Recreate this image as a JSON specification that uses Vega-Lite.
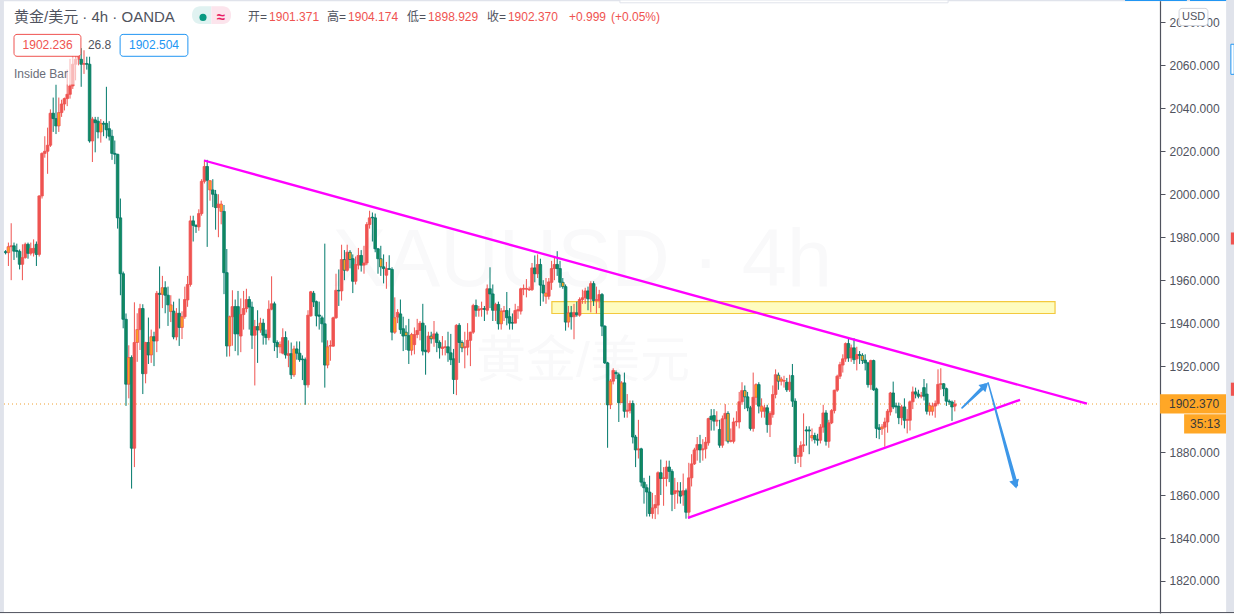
{"$schema":"https://vega.github.io/schema/vega-lite/v6.json","width":1160,"height":613,"autosize":"none","padding":{"left":0,"top":0,"right":74,"bottom":2},"background":"white","view":{"stroke":null},"config":{"font":"Liberation Sans, Noto Sans CJK SC"},
"datasets":{"bars":[
{"t":2,"o":1973.3,"h":1974,"l":1972,"c":1972.8,"s":"d"},
{"t":3,"o":1972.8,"h":1977.5,"l":1966.6,"c":1975.6,"s":"u","i":1},
{"t":4,"o":1975.6,"h":1986.5,"l":1960,"c":1976,"s":"u"},
{"t":5,"o":1976,"h":1977.5,"l":1969.4,"c":1973.5,"s":"d"},
{"t":6,"o":1973.8,"h":1977,"l":1970.5,"c":1973.4,"s":"d"},
{"t":7,"o":1973.4,"h":1974.3,"l":1965,"c":1967.4,"s":"d"},
{"t":8,"o":1967.4,"h":1976.7,"l":1960,"c":1970.5,"s":"u"},
{"t":9,"o":1970.5,"h":1977.5,"l":1970,"c":1976.7,"s":"u"},
{"t":10,"o":1976.7,"h":1977.5,"l":1970,"c":1972.5,"s":"d"},
{"t":11,"o":1972.5,"h":1977.5,"l":1971.5,"c":1974.7,"s":"u"},
{"t":12,"o":1972.8,"h":1979,"l":1971,"c":1974.8,"s":"u"},
{"t":13,"o":1976.7,"h":1978,"l":1966.6,"c":1972,"s":"d"},
{"t":14,"o":1972,"h":1999.5,"l":1971,"c":1999.2,"s":"u"},
{"t":15,"o":1999.2,"h":2019.5,"l":1998,"c":2019,"s":"u"},
{"t":16,"o":2019,"h":2027,"l":2017,"c":2020,"s":"u"},
{"t":17,"o":2020,"h":2031,"l":2009.5,"c":2022.8,"s":"u"},
{"t":18,"o":2022.8,"h":2039.5,"l":2022,"c":2037.7,"s":"u"},
{"t":19,"o":2037.7,"h":2045,"l":2029,"c":2035.2,"s":"d"},
{"t":20,"o":2035.2,"h":2051,"l":2028,"c":2031.8,"s":"d"},
{"t":21,"o":2031.8,"h":2045,"l":2029,"c":2038,"s":"u","i":1},
{"t":22,"o":2038,"h":2044,"l":2036,"c":2042,"s":"u"},
{"t":23,"o":2042,"h":2045,"l":2039,"c":2044.5,"s":"u"},
{"t":24,"o":2044.5,"h":2058,"l":2041,"c":2046.5,"s":"u"},
{"t":25,"o":2046.5,"h":2063,"l":2044.5,"c":2050.4,"s":"u"},
{"t":26,"o":2050.4,"h":2065,"l":2049,"c":2060.5,"s":"u"},
{"t":27,"o":2060.5,"h":2068,"l":2053,"c":2062.8,"s":"u"},
{"t":28,"o":2062.8,"h":2070,"l":2060,"c":2065,"s":"u"},
{"t":29,"o":2062.8,"h":2068,"l":2050,"c":2060.5,"s":"d"},
{"t":30,"o":2060.5,"h":2067,"l":2056,"c":2060.8,"s":"u"},
{"t":31,"o":2060.8,"h":2064,"l":2058,"c":2060.5,"s":"d"},
{"t":32,"o":2060.5,"h":2064,"l":2024,"c":2024.8,"s":"d"},
{"t":33,"o":2024.8,"h":2036,"l":2015,"c":2035,"s":"u"},
{"t":34,"o":2034.6,"h":2036,"l":2019.5,"c":2033.3,"s":"d"},
{"t":35,"o":2034,"h":2036,"l":2026,"c":2029,"s":"d"},
{"t":36,"o":2029,"h":2035,"l":2024,"c":2033,"s":"u","i":1},
{"t":37,"o":2033,"h":2034,"l":2027,"c":2032.6,"s":"d"},
{"t":38,"o":2033,"h":2050,"l":2026,"c":2030,"s":"d"},
{"t":39,"o":2030.5,"h":2034,"l":2025,"c":2027,"s":"d"},
{"t":40,"o":2027,"h":2030,"l":2016,"c":2019,"s":"d"},
{"t":41,"o":2019,"h":2025,"l":2014,"c":2018.6,"s":"d"},
{"t":42,"o":2018.6,"h":2018.8,"l":1984,"c":1989,"s":"d"},
{"t":43,"o":1989,"h":1998,"l":1953,"c":1963,"s":"d"},
{"t":44,"o":1963,"h":1964,"l":1937.6,"c":1941.8,"s":"d"},
{"t":45,"o":1941.8,"h":1944.5,"l":1901.5,"c":1911.6,"s":"d"},
{"t":46,"o":1911.6,"h":1929.7,"l":1905,"c":1924,"s":"u","i":1},
{"t":47,"o":1924,"h":1925,"l":1863,"c":1881.8,"s":"d"},
{"t":48,"o":1881.8,"h":1949.7,"l":1873,"c":1931,"s":"u"},
{"t":49,"o":1931,"h":1944.6,"l":1922,"c":1937,"s":"u","i":1},
{"t":50,"o":1937,"h":1949,"l":1927.5,"c":1946.8,"s":"u"},
{"t":51,"o":1946.8,"h":1948.8,"l":1907,"c":1916.5,"s":"d"},
{"t":52,"o":1916.5,"h":1931.3,"l":1912,"c":1931,"s":"u"},
{"t":53,"o":1931,"h":1942.6,"l":1921,"c":1925.2,"s":"d"},
{"t":54,"o":1925.2,"h":1937,"l":1921.5,"c":1933.7,"s":"u","i":1},
{"t":55,"o":1933.7,"h":1936,"l":1920,"c":1931.7,"s":"d"},
{"t":56,"o":1931.7,"h":1955,"l":1926.5,"c":1953.9,"s":"u"},
{"t":57,"o":1953.9,"h":1966.4,"l":1937.5,"c":1953.4,"s":"d"},
{"t":58,"o":1953.4,"h":1962,"l":1947,"c":1956.5,"s":"u","i":1},
{"t":59,"o":1956.5,"h":1959.5,"l":1944.6,"c":1953,"s":"d"},
{"t":60,"o":1953,"h":1957,"l":1938.7,"c":1948.5,"s":"d"},
{"t":61,"o":1945.4,"h":1953,"l":1940.5,"c":1948.5,"s":"u","i":1},
{"t":62,"o":1945.6,"h":1950,"l":1932.5,"c":1933.6,"s":"d"},
{"t":63,"o":1933.6,"h":1947,"l":1932,"c":1944.6,"s":"u"},
{"t":64,"o":1944.6,"h":1951.4,"l":1929.4,"c":1938,"s":"d"},
{"t":65,"o":1938,"h":1945.5,"l":1932.6,"c":1943,"s":"u","i":1},
{"t":66,"o":1943,"h":1957,"l":1942,"c":1951,"s":"u"},
{"t":67,"o":1950.8,"h":1962,"l":1947.6,"c":1958,"s":"u"},
{"t":68,"o":1958,"h":1990,"l":1957,"c":1987.6,"s":"u"},
{"t":69,"o":1987.6,"h":1990,"l":1978,"c":1985.5,"s":"d"},
{"t":70,"o":1985.5,"h":1986,"l":1982,"c":1985,"s":"d"},
{"t":71,"o":1984.8,"h":1993,"l":1983,"c":1991,"s":"u"},
{"t":72,"o":1991,"h":2007,"l":1990,"c":2006,"s":"u"},
{"t":73,"o":2006,"h":2016,"l":2005,"c":2012.9,"s":"u"},
{"t":74,"o":2012.9,"h":2016,"l":1975.5,"c":2006.5,"s":"d"},
{"t":75,"o":2002,"h":2006.5,"l":1997,"c":2006.3,"s":"u","i":1},
{"t":76,"o":2002,"h":2007,"l":1994,"c":2000,"s":"d"},
{"t":77,"o":2000,"h":2002,"l":1983.5,"c":1993.8,"s":"d"},
{"t":78,"o":1993.8,"h":2000,"l":1980,"c":1995.4,"s":"u"},
{"t":79,"o":1992,"h":1997,"l":1986,"c":1995.4,"s":"u","i":1},
{"t":80,"o":1992,"h":1995,"l":1953.5,"c":1963.5,"s":"d"},
{"t":81,"o":1963.5,"h":1974.5,"l":1924.4,"c":1929.4,"s":"d"},
{"t":82,"o":1929.4,"h":1943.5,"l":1924.5,"c":1943,"s":"u","i":1},
{"t":83,"o":1943,"h":1955.3,"l":1929.5,"c":1947.7,"s":"u"},
{"t":84,"o":1947.7,"h":1951,"l":1927,"c":1935,"s":"d"},
{"t":85,"o":1947.7,"h":1955,"l":1925,"c":1935,"s":"d"},
{"t":86,"o":1934,"h":1951.5,"l":1926.5,"c":1944,"s":"u"},
{"t":87,"o":1944,"h":1955,"l":1937,"c":1946.8,"s":"u"},
{"t":88,"o":1946.8,"h":1956,"l":1945,"c":1951,"s":"u"},
{"t":89,"o":1951,"h":1952.5,"l":1937,"c":1947.5,"s":"d"},
{"t":90,"o":1947.5,"h":1950,"l":1928,"c":1934.4,"s":"d"},
{"t":91,"o":1934.4,"h":1941.5,"l":1911,"c":1938.4,"s":"u"},
{"t":92,"o":1938.4,"h":1946,"l":1921.5,"c":1936.8,"s":"d"},
{"t":93,"o":1936.8,"h":1942.5,"l":1935.5,"c":1940,"s":"u","i":1},
{"t":94,"o":1940,"h":1942,"l":1930,"c":1934.4,"s":"d"},
{"t":95,"o":1934.8,"h":1937,"l":1930,"c":1933.3,"s":"d"},
{"t":96,"o":1933.3,"h":1950.6,"l":1932,"c":1946.5,"s":"u"},
{"t":97,"o":1946.5,"h":1961.8,"l":1946,"c":1949,"s":"u"},
{"t":98,"o":1949,"h":1950,"l":1927,"c":1931,"s":"d"},
{"t":99,"o":1931,"h":1932,"l":1923.8,"c":1929,"s":"d"},
{"t":100,"o":1929,"h":1931.5,"l":1926,"c":1930,"s":"u","i":1},
{"t":101,"o":1926,"h":1937.6,"l":1925.5,"c":1933.3,"s":"u"},
{"t":102,"o":1933.3,"h":1936.2,"l":1923.5,"c":1925.2,"s":"d"},
{"t":103,"o":1925,"h":1932,"l":1919.5,"c":1925.8,"s":"u"},
{"t":104,"o":1925.8,"h":1931,"l":1914,"c":1916,"s":"d"},
{"t":105,"o":1916,"h":1929.5,"l":1915,"c":1928,"s":"u","i":1},
{"t":106,"o":1928,"h":1931.5,"l":1923,"c":1926,"s":"d"},
{"t":107,"o":1926,"h":1931.5,"l":1922,"c":1923,"s":"d"},
{"t":108,"o":1923.3,"h":1925,"l":1913.5,"c":1923,"s":"d"},
{"t":109,"o":1923,"h":1924,"l":1902,"c":1911.3,"s":"d"},
{"t":110,"o":1911.3,"h":1946,"l":1910,"c":1943.7,"s":"u"},
{"t":111,"o":1943.4,"h":1955,"l":1943,"c":1954.6,"s":"u"},
{"t":112,"o":1953.9,"h":1955,"l":1947.5,"c":1949.9,"s":"d"},
{"t":113,"o":1950,"h":1950.5,"l":1938.5,"c":1943.4,"s":"d"},
{"t":114,"o":1943.8,"h":1950,"l":1937,"c":1943.2,"s":"d"},
{"t":115,"o":1942.5,"h":1943.5,"l":1931,"c":1939.7,"s":"d"},
{"t":116,"o":1939.7,"h":1977,"l":1910,"c":1920.5,"s":"d"},
{"t":117,"o":1920.5,"h":1932,"l":1919,"c":1929,"s":"u","i":1},
{"t":118,"o":1929.3,"h":1932,"l":1922.5,"c":1929.6,"s":"u"},
{"t":119,"o":1929.3,"h":1943,"l":1929,"c":1942.5,"s":"u"},
{"t":120,"o":1942.5,"h":1963,"l":1942,"c":1955.3,"s":"u"},
{"t":121,"o":1955.3,"h":1965,"l":1948,"c":1955,"s":"d"},
{"t":122,"o":1955,"h":1976.5,"l":1950.5,"c":1969.6,"s":"u"},
{"t":123,"o":1969.6,"h":1974,"l":1960,"c":1964.6,"s":"d","i":1},
{"t":124,"o":1964.6,"h":1976.5,"l":1964,"c":1973,"s":"u"},
{"t":125,"o":1973,"h":1974,"l":1965.5,"c":1969.6,"s":"d","i":1},
{"t":126,"o":1970,"h":1972,"l":1954,"c":1959.5,"s":"d"},
{"t":127,"o":1959.5,"h":1971,"l":1958,"c":1967.3,"s":"u"},
{"t":128,"o":1967,"h":1975,"l":1965,"c":1971.5,"s":"u"},
{"t":129,"o":1971.5,"h":1974,"l":1964,"c":1967,"s":"d"},
{"t":130,"o":1967,"h":1976,"l":1963,"c":1968,"s":"u"},
{"t":131,"o":1968,"h":1987,"l":1967,"c":1985.9,"s":"u"},
{"t":132,"o":1985.9,"h":1992.3,"l":1984,"c":1989,"s":"u"},
{"t":133,"o":1989.3,"h":1991.5,"l":1978,"c":1989,"s":"d"},
{"t":134,"o":1989,"h":1991,"l":1973,"c":1974.6,"s":"d"},
{"t":135,"o":1974.6,"h":1975,"l":1963,"c":1970,"s":"d"},
{"t":136,"o":1970,"h":1976,"l":1962,"c":1966.2,"s":"d","i":1},
{"t":137,"o":1966.2,"h":1972,"l":1958.5,"c":1965.4,"s":"d"},
{"t":138,"o":1962.3,"h":1968.5,"l":1956,"c":1965.4,"s":"u"},
{"t":139,"o":1965.4,"h":1971.6,"l":1965,"c":1965,"s":"d"},
{"t":140,"o":1965,"h":1966,"l":1932,"c":1935.8,"s":"d"},
{"t":141,"o":1935.8,"h":1952,"l":1935,"c":1942.5,"s":"u","i":1},
{"t":142,"o":1942.8,"h":1946.5,"l":1940,"c":1945,"s":"u"},
{"t":143,"o":1944.3,"h":1951,"l":1935,"c":1937,"s":"d"},
{"t":144,"o":1937.4,"h":1943,"l":1927,"c":1934,"s":"d"},
{"t":145,"o":1935.8,"h":1939,"l":1927.5,"c":1934.2,"s":"d","i":1},
{"t":146,"o":1934.2,"h":1942,"l":1921,"c":1927.4,"s":"d"},
{"t":147,"o":1927.4,"h":1935.5,"l":1925,"c":1934.7,"s":"u","i":1},
{"t":148,"o":1930,"h":1938,"l":1925.5,"c":1934.7,"s":"u"},
{"t":149,"o":1934.7,"h":1942,"l":1933,"c":1936.6,"s":"u"},
{"t":150,"o":1936.6,"h":1941,"l":1932,"c":1940,"s":"u"},
{"t":151,"o":1940,"h":1949,"l":1925,"c":1927,"s":"d"},
{"t":152,"o":1927.4,"h":1939,"l":1916,"c":1926.7,"s":"d"},
{"t":153,"o":1926.7,"h":1936,"l":1926,"c":1934,"s":"u"},
{"t":154,"o":1934,"h":1936,"l":1930.5,"c":1932.7,"s":"d","i":1},
{"t":155,"o":1932.7,"h":1941,"l":1929,"c":1935,"s":"u"},
{"t":156,"o":1935,"h":1936,"l":1926.5,"c":1931,"s":"d"},
{"t":157,"o":1931,"h":1932,"l":1923.5,"c":1928.5,"s":"d"},
{"t":158,"o":1928.2,"h":1934,"l":1925,"c":1928.9,"s":"u"},
{"t":159,"o":1928.7,"h":1932,"l":1925,"c":1929,"s":"u"},
{"t":160,"o":1929,"h":1936,"l":1922,"c":1926.2,"s":"d"},
{"t":161,"o":1926.2,"h":1935,"l":1920.5,"c":1923,"s":"d"},
{"t":162,"o":1923.4,"h":1928,"l":1907,"c":1913.8,"s":"d"},
{"t":163,"o":1913.8,"h":1939.5,"l":1906.5,"c":1939,"s":"u"},
{"t":164,"o":1939,"h":1940,"l":1921.5,"c":1931,"s":"d"},
{"t":165,"o":1931,"h":1932,"l":1926.5,"c":1928.5,"s":"d","i":1},
{"t":166,"o":1928.5,"h":1936,"l":1919,"c":1929,"s":"u"},
{"t":167,"o":1928.8,"h":1940,"l":1925,"c":1932,"s":"u"},
{"t":168,"o":1932,"h":1936,"l":1920,"c":1935.8,"s":"u"},
{"t":169,"o":1935.8,"h":1949,"l":1935,"c":1948.2,"s":"u"},
{"t":170,"o":1948.2,"h":1951,"l":1943,"c":1946,"s":"d"},
{"t":171,"o":1946,"h":1948,"l":1943,"c":1946.6,"s":"u"},
{"t":172,"o":1946.4,"h":1950,"l":1943,"c":1946.8,"s":"u"},
{"t":173,"o":1946.8,"h":1948,"l":1941,"c":1946.4,"s":"d"},
{"t":174,"o":1946,"h":1958,"l":1944,"c":1956,"s":"u"},
{"t":175,"o":1956,"h":1966,"l":1947,"c":1953.6,"s":"d"},
{"t":176,"o":1953.6,"h":1958,"l":1941,"c":1946,"s":"d"},
{"t":177,"o":1946,"h":1949.5,"l":1941,"c":1948.7,"s":"u"},
{"t":178,"o":1948.7,"h":1950,"l":1937,"c":1939.7,"s":"d"},
{"t":179,"o":1939.7,"h":1947,"l":1937,"c":1945.6,"s":"u","i":1},
{"t":180,"o":1945.4,"h":1948,"l":1941,"c":1945.8,"s":"u"},
{"t":181,"o":1945.9,"h":1954.5,"l":1939,"c":1942.5,"s":"d"},
{"t":182,"o":1943,"h":1947,"l":1937,"c":1940,"s":"d"},
{"t":183,"o":1940.3,"h":1944.5,"l":1937,"c":1940,"s":"d"},
{"t":184,"o":1940,"h":1949,"l":1940,"c":1945.9,"s":"u"},
{"t":185,"o":1945.7,"h":1948,"l":1942,"c":1946.3,"s":"u"},
{"t":186,"o":1945.6,"h":1956.5,"l":1944,"c":1956,"s":"u"},
{"t":187,"o":1955.8,"h":1958,"l":1953,"c":1956.2,"s":"u"},
{"t":188,"o":1955.8,"h":1960.5,"l":1952,"c":1956.2,"s":"u"},
{"t":189,"o":1955.5,"h":1957,"l":1955,"c":1955.9,"s":"u"},
{"t":190,"o":1955.6,"h":1968,"l":1955,"c":1965.7,"s":"u"},
{"t":191,"o":1965.7,"h":1971.5,"l":1959,"c":1963,"s":"d"},
{"t":192,"o":1963,"h":1972,"l":1961,"c":1967.3,"s":"u"},
{"t":193,"o":1967.3,"h":1970,"l":1948,"c":1957.7,"s":"d"},
{"t":194,"o":1957.7,"h":1960,"l":1950,"c":1954,"s":"d"},
{"t":195,"o":1952.5,"h":1961,"l":1949,"c":1954,"s":"u","i":1},
{"t":196,"o":1952.5,"h":1961,"l":1951,"c":1959.2,"s":"u"},
{"t":197,"o":1959,"h":1969,"l":1955.5,"c":1965.4,"s":"u"},
{"t":198,"o":1965.4,"h":1970.5,"l":1960,"c":1967.3,"s":"u"},
{"t":199,"o":1967.3,"h":1973.5,"l":1962,"c":1965.4,"s":"d"},
{"t":200,"o":1965.4,"h":1969,"l":1956.5,"c":1959,"s":"d"},
{"t":201,"o":1959,"h":1961,"l":1956,"c":1957,"s":"d","i":1},
{"t":202,"o":1957,"h":1958,"l":1936.5,"c":1940.5,"s":"d"},
{"t":203,"o":1940.5,"h":1948,"l":1938,"c":1944.8,"s":"u","i":1},
{"t":204,"o":1944.8,"h":1948,"l":1937,"c":1943,"s":"d"},
{"t":205,"o":1943,"h":1949,"l":1932.5,"c":1945,"s":"u"},
{"t":206,"o":1944.8,"h":1950,"l":1943,"c":1943.9,"s":"d"},
{"t":207,"o":1943.7,"h":1952,"l":1943,"c":1951,"s":"u"},
{"t":208,"o":1951,"h":1955.6,"l":1949,"c":1951.8,"s":"u"},
{"t":209,"o":1951.8,"h":1956.5,"l":1949,"c":1955,"s":"u"},
{"t":210,"o":1955,"h":1957,"l":1946,"c":1951.3,"s":"d"},
{"t":211,"o":1951.3,"h":1959.5,"l":1945,"c":1958.4,"s":"u"},
{"t":212,"o":1958.4,"h":1959.5,"l":1948,"c":1950.5,"s":"d"},
{"t":213,"o":1950.5,"h":1957,"l":1944.5,"c":1951,"s":"u"},
{"t":214,"o":1950.5,"h":1955.5,"l":1947,"c":1953.3,"s":"u"},
{"t":215,"o":1953.3,"h":1954,"l":1934,"c":1938.6,"s":"d"},
{"t":216,"o":1938.6,"h":1939,"l":1921,"c":1921.5,"s":"d"},
{"t":217,"o":1921.5,"h":1922,"l":1882,"c":1902,"s":"d"},
{"t":218,"o":1902,"h":1914,"l":1900,"c":1913,"s":"u","i":1},
{"t":219,"o":1913,"h":1919,"l":1911.5,"c":1918,"s":"u"},
{"t":220,"o":1917,"h":1918,"l":1914,"c":1916.5,"s":"d"},
{"t":221,"o":1916,"h":1917,"l":1894,"c":1903,"s":"d"},
{"t":222,"o":1903,"h":1913,"l":1903,"c":1912.2,"s":"u","i":1},
{"t":223,"o":1912.2,"h":1917,"l":1896,"c":1899,"s":"d"},
{"t":224,"o":1899,"h":1907,"l":1896,"c":1899.5,"s":"u"},
{"t":225,"o":1899.3,"h":1904,"l":1898,"c":1902.6,"s":"u"},
{"t":226,"o":1902.6,"h":1904,"l":1884,"c":1887,"s":"d"},
{"t":227,"o":1887,"h":1888,"l":1873,"c":1881,"s":"d"},
{"t":228,"o":1881,"h":1895,"l":1877,"c":1881.5,"s":"u"},
{"t":229,"o":1881.5,"h":1882,"l":1864,"c":1866,"s":"d"},
{"t":230,"o":1866,"h":1868,"l":1856,"c":1863.4,"s":"d"},
{"t":231,"o":1863.4,"h":1865,"l":1850,"c":1861.4,"s":"d"},
{"t":232,"o":1861.4,"h":1869,"l":1850,"c":1851.4,"s":"d"},
{"t":233,"o":1851.4,"h":1861,"l":1849,"c":1854,"s":"u"},
{"t":234,"o":1854,"h":1860,"l":1848.8,"c":1855.6,"s":"u"},
{"t":235,"o":1855.3,"h":1871,"l":1851,"c":1870.4,"s":"u"},
{"t":236,"o":1870.4,"h":1876.5,"l":1860,"c":1867.7,"s":"d"},
{"t":237,"o":1867.7,"h":1873,"l":1855,"c":1868,"s":"u"},
{"t":238,"o":1867.7,"h":1876,"l":1864,"c":1873,"s":"u"},
{"t":239,"o":1873,"h":1876,"l":1866,"c":1871,"s":"d"},
{"t":240,"o":1871,"h":1872,"l":1852.5,"c":1860.3,"s":"d"},
{"t":241,"o":1860.7,"h":1868,"l":1853.5,"c":1862,"s":"u"},
{"t":242,"o":1861.5,"h":1866,"l":1856,"c":1862,"s":"u"},
{"t":243,"o":1861.8,"h":1866,"l":1856,"c":1859.5,"s":"d"},
{"t":244,"o":1860,"h":1870,"l":1855,"c":1862,"s":"u"},
{"t":245,"o":1862,"h":1863,"l":1849,"c":1852,"s":"d"},
{"t":246,"o":1852,"h":1875,"l":1849,"c":1868,"s":"u"},
{"t":247,"o":1868,"h":1879,"l":1864,"c":1874.5,"s":"u"},
{"t":248,"o":1874.5,"h":1882,"l":1874,"c":1881,"s":"u"},
{"t":249,"o":1881,"h":1887,"l":1876,"c":1883.5,"s":"u"},
{"t":250,"o":1883.5,"h":1888,"l":1875,"c":1881,"s":"d"},
{"t":251,"o":1881,"h":1886,"l":1876,"c":1881.5,"s":"u"},
{"t":252,"o":1881.5,"h":1887,"l":1877,"c":1884.6,"s":"u"},
{"t":253,"o":1884.3,"h":1896,"l":1883,"c":1895.6,"s":"u"},
{"t":254,"o":1896.7,"h":1900,"l":1890,"c":1895.2,"s":"d"},
{"t":255,"o":1897,"h":1900,"l":1890,"c":1894.4,"s":"d"},
{"t":256,"o":1894.4,"h":1899,"l":1892,"c":1894.8,"s":"u"},
{"t":257,"o":1890.5,"h":1895,"l":1882,"c":1883.2,"s":"d"},
{"t":258,"o":1883.2,"h":1897,"l":1882,"c":1895.5,"s":"u"},
{"t":259,"o":1895.5,"h":1902.3,"l":1885,"c":1898,"s":"u"},
{"t":260,"o":1898,"h":1899,"l":1884,"c":1885,"s":"d","i":1},
{"t":261,"o":1885,"h":1891,"l":1884.5,"c":1885.4,"s":"u"},
{"t":262,"o":1885,"h":1896,"l":1884,"c":1894,"s":"u"},
{"t":263,"o":1894,"h":1899,"l":1892,"c":1894.3,"s":"u"},
{"t":264,"o":1894,"h":1908,"l":1891,"c":1903.4,"s":"u"},
{"t":265,"o":1903.4,"h":1912.5,"l":1902,"c":1908.6,"s":"u"},
{"t":266,"o":1908.6,"h":1911,"l":1900,"c":1905.7,"s":"d","i":1},
{"t":267,"o":1905.7,"h":1908,"l":1899,"c":1900.6,"s":"d"},
{"t":268,"o":1900.6,"h":1901.5,"l":1890,"c":1891,"s":"d"},
{"t":269,"o":1891,"h":1917,"l":1889.5,"c":1905.5,"s":"u"},
{"t":270,"o":1905.5,"h":1912,"l":1902,"c":1911.4,"s":"u","i":1},
{"t":271,"o":1911.4,"h":1912.5,"l":1898,"c":1901.4,"s":"d"},
{"t":272,"o":1899,"h":1905,"l":1896,"c":1901.4,"s":"u","i":1},
{"t":273,"o":1899,"h":1902,"l":1896,"c":1900.6,"s":"u"},
{"t":274,"o":1900.6,"h":1902,"l":1889,"c":1892.8,"s":"d"},
{"t":275,"o":1892.8,"h":1899,"l":1887,"c":1898,"s":"u"},
{"t":276,"o":1897.5,"h":1911,"l":1896,"c":1906.8,"s":"u"},
{"t":277,"o":1906.8,"h":1918.5,"l":1905,"c":1916,"s":"u"},
{"t":278,"o":1915.8,"h":1917,"l":1909,"c":1913,"s":"d","i":1},
{"t":279,"o":1913,"h":1915,"l":1911,"c":1914,"s":"u","i":1},
{"t":280,"o":1913,"h":1915.5,"l":1910,"c":1913.3,"s":"u"},
{"t":281,"o":1912.5,"h":1914.5,"l":1908,"c":1909,"s":"d"},
{"t":282,"o":1909,"h":1916,"l":1908,"c":1912.5,"s":"u"},
{"t":283,"o":1915.6,"h":1921,"l":1901,"c":1903.7,"s":"d"},
{"t":284,"o":1903.7,"h":1905,"l":1874.5,"c":1878,"s":"d"},
{"t":285,"o":1878,"h":1882,"l":1875,"c":1878.4,"s":"u"},
{"t":286,"o":1878,"h":1885,"l":1873,"c":1883,"s":"u"},
{"t":287,"o":1883,"h":1898,"l":1880,"c":1883.4,"s":"u"},
{"t":288,"o":1890.3,"h":1892,"l":1883,"c":1889.8,"s":"d"},
{"t":289,"o":1890.3,"h":1892,"l":1879,"c":1889.8,"s":"d"},
{"t":290,"o":1886.6,"h":1891,"l":1885,"c":1887.7,"s":"u","i":1},
{"t":291,"o":1887.7,"h":1889,"l":1884,"c":1885.8,"s":"d"},
{"t":292,"o":1886,"h":1888.5,"l":1883,"c":1885.5,"s":"d"},
{"t":293,"o":1885.5,"h":1893,"l":1884,"c":1891.6,"s":"u"},
{"t":294,"o":1891.6,"h":1902,"l":1889,"c":1898.2,"s":"u"},
{"t":295,"o":1898.2,"h":1899.5,"l":1883,"c":1885,"s":"d"},
{"t":296,"o":1885,"h":1895,"l":1882,"c":1893.6,"s":"u"},
{"t":297,"o":1893.6,"h":1900,"l":1893,"c":1899.3,"s":"u"},
{"t":298,"o":1899.3,"h":1909,"l":1898,"c":1908.8,"s":"u"},
{"t":299,"o":1908.8,"h":1916,"l":1908,"c":1915.3,"s":"u"},
{"t":300,"o":1915.3,"h":1922,"l":1914,"c":1920.7,"s":"u"},
{"t":301,"o":1920.5,"h":1925.5,"l":1917,"c":1923.4,"s":"u"},
{"t":302,"o":1923.4,"h":1931,"l":1922,"c":1930.5,"s":"u"},
{"t":303,"o":1930.5,"h":1933,"l":1922,"c":1923.8,"s":"d"},
{"t":304,"o":1923.8,"h":1930,"l":1922,"c":1928.5,"s":"u"},
{"t":305,"o":1928.5,"h":1933,"l":1921,"c":1923,"s":"d"},
{"t":306,"o":1923.4,"h":1929,"l":1918,"c":1925.4,"s":"u"},
{"t":307,"o":1925.4,"h":1927,"l":1921,"c":1925,"s":"d"},
{"t":308,"o":1925,"h":1926,"l":1921,"c":1922.6,"s":"d","i":1},
{"t":309,"o":1922.8,"h":1925.5,"l":1918,"c":1921.5,"s":"d"},
{"t":310,"o":1921.5,"h":1922,"l":1910,"c":1911.4,"s":"d"},
{"t":311,"o":1911.4,"h":1923,"l":1909,"c":1922.6,"s":"u"},
{"t":312,"o":1922.6,"h":1923,"l":1908.5,"c":1909,"s":"d"},
{"t":313,"o":1909.4,"h":1910,"l":1886.5,"c":1891,"s":"d"},
{"t":314,"o":1891.3,"h":1893,"l":1886,"c":1890.5,"s":"d"},
{"t":315,"o":1890.8,"h":1893,"l":1888,"c":1891.7,"s":"u","i":1},
{"t":316,"o":1891.6,"h":1896,"l":1882.5,"c":1894,"s":"u"},
{"t":317,"o":1894,"h":1900,"l":1889,"c":1899,"s":"u"},
{"t":318,"o":1898.7,"h":1908,"l":1897,"c":1907.5,"s":"u"},
{"t":319,"o":1907.5,"h":1912.8,"l":1900,"c":1901,"s":"d"},
{"t":320,"o":1901.5,"h":1903,"l":1898,"c":1901,"s":"d"},
{"t":321,"o":1901.3,"h":1903,"l":1893,"c":1896,"s":"d"},
{"t":322,"o":1896,"h":1902,"l":1892.5,"c":1901,"s":"u"},
{"t":323,"o":1901,"h":1905,"l":1891,"c":1894.8,"s":"d"},
{"t":324,"o":1894.8,"h":1900,"l":1888.7,"c":1895.2,"s":"u"},
{"t":325,"o":1894.8,"h":1904,"l":1890,"c":1903.4,"s":"u"},
{"t":326,"o":1903.4,"h":1910.5,"l":1900,"c":1908,"s":"u"},
{"t":327,"o":1908,"h":1910,"l":1905,"c":1907,"s":"d"},
{"t":328,"o":1907,"h":1909,"l":1905,"c":1906,"s":"d"},
{"t":329,"o":1906,"h":1908,"l":1905,"c":1906.3,"s":"u"},
{"t":330,"o":1910,"h":1914,"l":1904,"c":1906,"s":"d"},
{"t":331,"o":1907,"h":1912,"l":1897.5,"c":1899,"s":"d"},
{"t":332,"o":1899,"h":1903,"l":1897,"c":1901.7,"s":"u","i":1},
{"t":333,"o":1899,"h":1903,"l":1897,"c":1901.4,"s":"u","i":1},
{"t":334,"o":1901.4,"h":1904,"l":1896,"c":1902.6,"s":"u"},
{"t":335,"o":1902.6,"h":1918.5,"l":1901.7,"c":1911.5,"s":"u"},
{"t":336,"o":1911.5,"h":1919,"l":1909,"c":1911.8,"s":"u"},
{"t":337,"o":1911.8,"h":1912,"l":1906,"c":1909.5,"s":"d"},
{"t":338,"o":1909.5,"h":1910,"l":1901.5,"c":1903.7,"s":"d"},
{"t":339,"o":1903.7,"h":1904.5,"l":1902,"c":1903.3,"s":"d"},
{"t":340,"o":1903.3,"h":1904,"l":1894.5,"c":1901,"s":"d"},
{"t":341,"o":1901.371,"h":1904.174,"l":1898.929,"c":1902.37,"s":"u"}
]},
"layer":[
{"data":{"values":[{"t":207.9,"p":1968.6,"label":"XAUUSD · 4h"}]},"mark":{"type":"text","fontSize":81,"color":"#f9f9fa","align":"center","baseline":"middle"},"encoding":{"x":{"field":"t","type":"quantitative","scale":{"domain":[0,414.2857],"nice":false,"zero":false,"padding":0},"axis":null},"y":{"field":"p","type":"quantitative","scale":{"domain":[1805.1,2090.4],"nice":false,"zero":false},"axis":{"orient":"right","values":[1820,1840,1860,1880,1920,1940,1960,1980,2000,2020,2040,2060,2080],"format":".3f","title":null,"grid":false,"labelFont":"Liberation Sans","labelFontSize":12,"labelColor":"#50535e","tickColor":"#50535e","domainColor":"#50535e","tickSize":5,"labelPadding":4,"domainWidth":1.2}},"text":{"field":"label"}}},
{"data":{"values":[{"t":208.2,"p":1922,"label":"黄金/美元"}]},"mark":{"type":"text","fontSize":50,"color":"#f9f9fa","align":"center","baseline":"middle"},"encoding":{"x":{"field":"t","type":"quantitative"},"y":{"field":"p","type":"quantitative"},"text":{"field":"label"}}},
{"data":{"values":[{"a":197.1,"b":376.8,"p":1950,"q":1944.5}]},"mark":{"type":"rect","fill":"#fefcbf","stroke":"#f3c93e","strokeWidth":1.2},"encoding":{"x":{"field":"a","type":"quantitative"},"x2":{"field":"b"},"y":{"field":"p","type":"quantitative"},"y2":{"field":"q"}}},
{"data":{"values":[{"a":0,"b":440.7,"p":1902.37}]},"mark":{"type":"rule","color":"#f0a030","strokeWidth":1,"strokeDash":[1,3]},"encoding":{"x":{"field":"a","type":"quantitative"},"x2":{"field":"b"},"y":{"field":"p","type":"quantitative"}}},
{"data":{"name":"bars"},"mark":{"type":"rule","strokeWidth":1},"encoding":{"x":{"field":"t","type":"quantitative"},"y":{"field":"l","type":"quantitative"},"y2":{"field":"h"},"color":{"field":"s","type":"nominal","scale":{"domain":["u","d"],"range":["#ef5350","#00796b"]},"legend":null}}},
{"data":{"name":"bars"},"mark":{"type":"bar","width":2.6,"strokeWidth":0.8},"encoding":{"x":{"field":"t","type":"quantitative"},"y":{"field":"o","type":"quantitative"},"y2":{"field":"c"},"stroke":{"field":"s","type":"nominal","scale":{"domain":["u","d"],"range":["#ef5350","#00796b"]},"legend":null},"fill":{"condition":{"test":"datum.i===1","value":"#ffa020"},"field":"s","type":"nominal","scale":{"domain":["u","d"],"range":["#ef5350","#128a5e"]},"legend":null}}},
{"data":{"values":[{"a":5,"b":27.9,"p":2063.7,"q":2051.1}]},"mark":{"type":"rect","fill":"white","opacity":0.6},"encoding":{"x":{"field":"a","type":"quantitative"},"x2":{"field":"b"},"y":{"field":"p","type":"quantitative"},"y2":{"field":"q"}}},
{"data":{"values":[{"t":72.9,"p":2015.7,"g":"a"},{"t":388.2,"p":1902.5,"g":"a"},{"t":245.7,"p":1849.4,"g":"b"},{"t":364.3,"p":1904.3,"g":"b"}]},"mark":{"type":"line","color":"#ff00ff","strokeWidth":2.3},"encoding":{"x":{"field":"t","type":"quantitative"},"y":{"field":"p","type":"quantitative"},"detail":{"field":"g"}}},
{"data":{"values":[{"t":343.6,"p":1900.6,"w":1.5,"g":"a"},{"t":351.8,"p":1910.9,"w":6,"g":"a"},{"t":352.9,"p":1912.3,"w":0.8,"g":"b"},{"t":362.9,"p":1864.7,"w":6,"g":"b"}]},"mark":{"type":"trail","color":"#3d97e8"},"encoding":{"x":{"field":"t","type":"quantitative"},"y":{"field":"p","type":"quantitative"},"detail":{"field":"g"},"size":{"field":"w","type":"quantitative","scale":{"type":"identity"},"legend":null}}},
{"data":{"values":[{"t":351.8,"p":1910.9}]},"mark":{"type":"point","shape":"triangle-up","filled":true,"color":"#3d97e8","size":100,"angle":46,"opacity":1},"encoding":{"x":{"field":"t","type":"quantitative"},"y":{"field":"p","type":"quantitative"}}},
{"data":{"values":[{"t":362.6,"p":1865}]},"mark":{"type":"point","shape":"triangle-up","filled":true,"color":"#3d97e8","size":100,"angle":165,"opacity":1},"encoding":{"x":{"field":"t","type":"quantitative"},"y":{"field":"p","type":"quantitative"}}},
{"data":{"values":[{"a":5,"b":28.9,"p":2074.4,"q":2064.2}]},"mark":{"type":"rect","fill":"white","stroke":"#ef5350","cornerRadius":3},"encoding":{"x":{"field":"a","type":"quantitative"},"x2":{"field":"b"},"y":{"field":"p","type":"quantitative"},"y2":{"field":"q"}}},
{"data":{"values":[{"a":42.9,"b":67.1,"p":2074.4,"q":2064.2}]},"mark":{"type":"rect","fill":"white","stroke":"#2196f3","cornerRadius":3},"encoding":{"x":{"field":"a","type":"quantitative"},"x2":{"field":"b"},"y":{"field":"p","type":"quantitative"},"y2":{"field":"q"}}},
{"data":{"values":[{"a":68.6,"b":75.5,"p":2087.5,"q":2079.2}]},"mark":{"type":"rect","fill":"#e0f2f1","cornerRadiusTopLeft":8,"cornerRadiusBottomLeft":8},"encoding":{"x":{"field":"a","type":"quantitative"},"x2":{"field":"b"},"y":{"field":"p","type":"quantitative"},"y2":{"field":"q"}}},
{"data":{"values":[{"a":75.5,"b":82.5,"p":2087.5,"q":2079.2}]},"mark":{"type":"rect","fill":"#fce4ec","cornerRadiusTopRight":8,"cornerRadiusBottomRight":8},"encoding":{"x":{"field":"a","type":"quantitative"},"x2":{"field":"b"},"y":{"field":"p","type":"quantitative"},"y2":{"field":"q"}}},
{"data":{"values":[{"t":72.5,"p":2082.3}]},"mark":{"type":"point","filled":true,"color":"#089981","size":50,"opacity":1},"encoding":{"x":{"field":"t","type":"quantitative"},"y":{"field":"p","type":"quantitative"}}},
{"data":{"values":[{"t":78.9,"p":2082.3,"label":"≈"}]},"mark":{"type":"text","color":"#e91e63","fontSize":15,"fontWeight":"bold","align":"center","baseline":"middle"},"encoding":{"x":{"field":"t","type":"quantitative"},"y":{"field":"p","type":"quantitative"},"text":{"field":"label"}}},
{"data":{"values":[{"t":5,"p":2082.3,"label":"黄金/美元 · 4h · OANDA"}]},"mark":{"type":"text","color":"#50535e","fontSize":15,"align":"left","baseline":"middle"},"encoding":{"x":{"field":"t","type":"quantitative"},"y":{"field":"p","type":"quantitative"},"text":{"field":"label"}}},
{"data":{"values":[{"t":88.6,"p":2082.3,"label":"开="},{"t":116.8,"p":2082.3,"label":"高="},{"t":145.4,"p":2082.3,"label":"低="},{"t":173.9,"p":2082.3,"label":"收="},{"t":31.4,"p":2069.3,"label":"26.8"}]},"mark":{"type":"text","color":"#50535e","fontSize":12,"align":"left","baseline":"middle"},"encoding":{"x":{"field":"t","type":"quantitative"},"y":{"field":"p","type":"quantitative"},"text":{"field":"label"}}},
{"data":{"values":[{"t":96.1,"label":"1901.371"},{"t":124.3,"label":"1904.174"},{"t":152.9,"label":"1898.929"},{"t":181.4,"label":"1902.370"},{"t":203.2,"label":"+0.999"},{"t":218.2,"label":"(+0.05%)"}]},"mark":{"type":"text","color":"#ef5350","fontSize":12,"align":"left","baseline":"middle"},"encoding":{"x":{"field":"t","type":"quantitative"},"y":{"datum":2082.3,"type":"quantitative"},"text":{"field":"label"}}},
{"data":{"values":[{"t":17,"p":2069.3,"label":"1902.236"}]},"mark":{"type":"text","color":"#ef5350","fontSize":12,"align":"center","baseline":"middle"},"encoding":{"x":{"field":"t","type":"quantitative"},"y":{"field":"p","type":"quantitative"},"text":{"field":"label"}}},
{"data":{"values":[{"t":55,"p":2069.3,"label":"1902.504"}]},"mark":{"type":"text","color":"#2196f3","fontSize":12,"align":"center","baseline":"middle"},"encoding":{"x":{"field":"t","type":"quantitative"},"y":{"field":"p","type":"quantitative"},"text":{"field":"label"}}},
{"data":{"values":[{"t":5,"p":2055.8,"label":"Inside Bar"}]},"mark":{"type":"text","color":"#6a6d78","fontSize":12,"align":"left","baseline":"middle"},"encoding":{"x":{"field":"t","type":"quantitative"},"y":{"field":"p","type":"quantitative"},"text":{"field":"label"}}},
{"data":{"values":[{"a":421.1,"b":431.4,"p":2086.5,"q":2078.5}]},"mark":{"type":"rect","fill":"white","stroke":"#d1d4dc","cornerRadius":3},"encoding":{"x":{"field":"a","type":"quantitative"},"x2":{"field":"b"},"y":{"field":"p","type":"quantitative"},"y2":{"field":"q"}}},
{"data":{"values":[{"t":426.3,"p":2082.5,"label":"USD"}]},"mark":{"type":"text","color":"#50535e","fontSize":11,"align":"center","baseline":"middle"},"encoding":{"x":{"field":"t","type":"quantitative"},"y":{"field":"p","type":"quantitative"},"text":{"field":"label"}}},
{"data":{"values":[{"a":414.3,"b":437.9,"p":1906.9,"q":1898},{"a":422.9,"b":437.9,"p":1897.6,"q":1888.7}]},"mark":{"type":"rect","fill":"#ffa726"},"encoding":{"x":{"field":"a","type":"quantitative"},"x2":{"field":"b"},"y":{"field":"p","type":"quantitative"},"y2":{"field":"q"}}},
{"data":{"values":[{"t":417.5,"p":1902.4,"label":"1902.370"}]},"mark":{"type":"text","color":"#3a3a3a","fontSize":12,"align":"left","baseline":"middle"},"encoding":{"x":{"field":"t","type":"quantitative"},"y":{"field":"p","type":"quantitative"},"text":{"field":"label"}}},
{"data":{"values":[{"t":430.4,"p":1893.2,"label":"35:13"}]},"mark":{"type":"text","color":"#3a3a3a","fontSize":12,"align":"center","baseline":"middle"},"encoding":{"x":{"field":"t","type":"quantitative"},"y":{"field":"p","type":"quantitative"},"text":{"field":"label"}}},
{"data":{"values":[{"a":437.9,"b":440.8,"p":2090.4,"q":1805.1},{"a":0,"b":1.4,"p":2090.4,"q":1805.1},{"a":0,"b":440.8,"p":2090.4,"q":2089.8}]},"mark":{"type":"rect","fill":"#e0e3eb"},"encoding":{"x":{"field":"a","type":"quantitative"},"x2":{"field":"b"},"y":{"field":"p","type":"quantitative"},"y2":{"field":"q"}}},
{"data":{"values":[{"a":221.4,"b":338.6,"p":2090.4,"q":2089.1}]},"mark":{"type":"rect","fill":"white","stroke":"#e0e3eb"},"encoding":{"x":{"field":"a","type":"quantitative"},"x2":{"field":"b"},"y":{"field":"p","type":"quantitative"},"y2":{"field":"q"}}},
{"data":{"values":[{"a":401.8,"b":423.9,"p":2090.4,"q":2089.9},{"a":425,"b":437.9,"p":2090.4,"q":2089.9}]},"mark":{"type":"rect","fill":"#2196f3"},"encoding":{"x":{"field":"a","type":"quantitative"},"x2":{"field":"b"},"y":{"field":"p","type":"quantitative"},"y2":{"field":"q"}}},
{"data":{"values":[{"a":439.6,"b":440.8,"p":1912.3,"q":1906.2},{"a":439.6,"b":440.8,"p":1982.2,"q":1976.6}]},"mark":{"type":"rect","fill":"#ef5350"},"encoding":{"x":{"field":"a","type":"quantitative"},"x2":{"field":"b"},"y":{"field":"p","type":"quantitative"},"y2":{"field":"q"}}},
{"data":{"values":[{"a":439.6,"b":440.8,"p":2069.8,"q":2055.8}]},"mark":{"type":"rect","fill":"white","stroke":"#2196f3"},"encoding":{"x":{"field":"a","type":"quantitative"},"x2":{"field":"b"},"y":{"field":"p","type":"quantitative"},"y2":{"field":"q"}}},
{"data":{"values":[{"a":0,"b":440.8,"p":1805.3}]},"mark":{"type":"rule","color":"#50535e","strokeWidth":1},"encoding":{"x":{"field":"a","type":"quantitative"},"x2":{"field":"b"},"y":{"field":"p","type":"quantitative"}}}
]}
